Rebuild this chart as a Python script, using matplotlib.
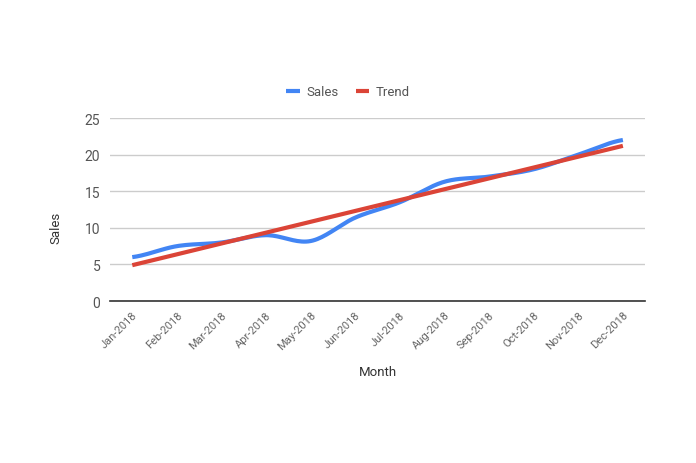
import numpy as np
import matplotlib
matplotlib.use("Agg")
import matplotlib.pyplot as plt

plt.rcParams['font.family'] = ['Roboto', 'DejaVu Sans']

months = ['Jan-2018', 'Feb-2018', 'Mar-2018', 'Apr-2018', 'May-2018', 'Jun-2018',
          'Jul-2018', 'Aug-2018', 'Sep-2018', 'Oct-2018', 'Nov-2018', 'Dec-2018']
sales = [6.0, 7.5, 8.0, 9.0, 8.2, 11.4, 13.5, 16.3, 17.0, 18.0, 20.0, 22.0]
# trend line endpoints (Jan, Dec)
trend = [4.9, 21.2]


def smooth(x, y, n=20):
    # Catmull-Rom style smoothing, like the sheet's curved lines
    x = np.asarray(x, float)
    y = np.asarray(y, float)
    xs, ys = [], []
    for i in range(len(x) - 1):
        y0 = y[i - 1] if i > 0 else y[i]
        y3 = y[i + 2] if i + 2 < len(y) else y[i + 1]
        m1 = (y[i + 1] - y0) / 2
        m2 = (y3 - y[i]) / 2
        t = np.linspace(0, 1, n, endpoint=False)
        h00 = 2*t**3 - 3*t**2 + 1
        h10 = t**3 - 2*t**2 + t
        h01 = -2*t**3 + 3*t**2
        h11 = t**3 - t**2
        xs.append(x[i] + t * (x[i + 1] - x[i]))
        ys.append(h00*y[i] + h10*m1 + h01*y[i + 1] + h11*m2)
    xs.append([x[-1]])
    ys.append([y[-1]])
    return np.concatenate(xs), np.concatenate(ys)


fig = plt.figure(figsize=(6.96, 4.64), dpi=100)
ax = fig.add_axes([0.158, 0.349, 0.769, 0.3945])

x = np.arange(len(months))
sx, sy = smooth(x, sales)
ax.plot(sx, sy, color='#4285F4', lw=3, label='Sales', solid_capstyle='butt')
ax.plot([x[0], x[-1]], trend, color='#DB4437', lw=3, label='Trend', solid_capstyle='butt')

ax.set_ylim(0, 25)
ax.set_xlim(-0.5, 11.5)
ax.set_yticks([0, 5, 10, 15, 20, 25])
ax.yaxis.grid(True, color='#cccccc', lw=1)
ax.set_axisbelow(True)
for s in ['top', 'right', 'left']:
    ax.spines[s].set_visible(False)
ax.spines['bottom'].set_color('#333333')
ax.spines['bottom'].set_linewidth(1.2)
ax.tick_params(axis='both', length=0, colors='#555555')
ax.tick_params(axis='y', labelsize=10, pad=7)
ax.set_xticks(x)
ax.set_xticklabels(months, rotation=45, ha='right', rotation_mode='anchor',
                   fontsize=8, color='#666666')
ax.tick_params(axis='x', pad=6)

ax.set_xlabel('Month', fontsize=9.5, color='#333333', labelpad=10)
ax.set_ylabel('Sales', fontsize=9.5, color='#333333')
ax.yaxis.set_label_coords(-0.088, 0.405)

fig.legend(loc='center', bbox_to_anchor=(0.5, 0.80), ncol=2, frameon=False,
           handlelength=1.0, handletextpad=0.5, columnspacing=1.3,
           prop={'size': 9.5}, labelcolor='#555555')

fig.savefig('out.png', dpi=100)
